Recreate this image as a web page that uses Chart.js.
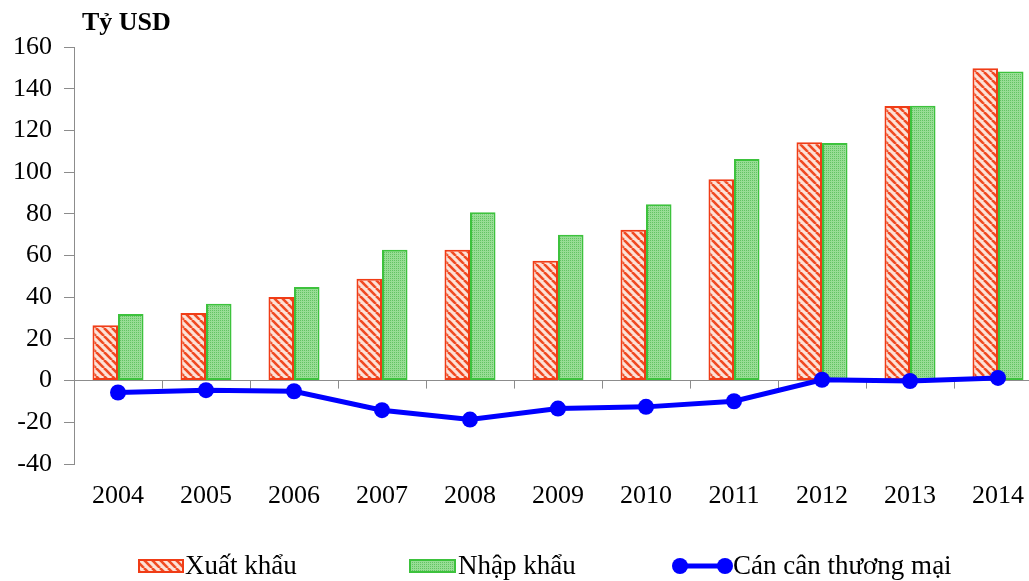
<!DOCTYPE html>
<html>
<head>
<meta charset="utf-8">
<script src="https://cdn.jsdelivr.net/npm/chart.js@4.4.1/dist/chart.umd.min.js"></script>
<style>
  html, body { margin: 0; padding: 0; overflow: hidden; background: #fff; width: 1029px; height: 581px; }
  #wrap { position: absolute; left: 0; top: 0; width: 1060px; height: 581px; }
</style>
</head>
<body>
<div id="wrap"><canvas id="c" width="1060" height="581"></canvas></div>
<script>
// Vietnam trade, billion USD
const years = ['2004', '2005', '2006', '2007', '2008', '2009', '2010', '2011', '2012', '2013', '2014'];
const exportValues = [26.5, 32.4, 40.1, 48.9, 62.8, 57.5, 72.3, 96.6, 114.3, 131.7, 149.8];
const importValues = [32.0, 36.9, 44.9, 62.8, 80.8, 69.9, 84.6, 106.3, 113.9, 131.8, 148.2];
const balanceValues = [-5.7, -4.6, -5.1, -14.2, -18.7, -13.4, -12.6, -9.9, 0.4, -0.2, 1.3];
const yMin = -40, yMax = 160, yStep = 20;
const seriesNames = ['Xuất khẩu', 'Nhập khẩu', 'Cán cân thương mại'];
const unitTitle = 'Tỷ USD';

const SERIF = '"Liberation Serif", "Times New Roman", serif';
const RED = '#F03C16';
const GREEN = '#3DC23D';
const BLUE = '#0000FF';

// diagonal red hatch on pale pink
function hatchPattern() {
  const p = document.createElement('canvas');
  p.width = 8; p.height = 8;
  const g = p.getContext('2d');
  g.fillStyle = '#FCE2D8';
  g.fillRect(0, 0, 8, 8);
  g.strokeStyle = '#F04A22';
  g.lineWidth = 2.6;
  for (const x0 of [-8, 0, 8]) {
    g.beginPath();
    g.moveTo(x0, 0);
    g.lineTo(x0 + 8, 8);
    g.stroke();
  }
  return g.createPattern(p, 'repeat');
}

// fine dotted light green
function dotPattern() {
  const p = document.createElement('canvas');
  p.width = 4; p.height = 4;
  const g = p.getContext('2d');
  g.fillStyle = '#98DD95';
  g.fillRect(0, 0, 4, 4);
  g.fillStyle = '#62C462';
  g.fillRect(0, 0, 1, 1);
  g.fillRect(2, 2, 1, 1);
  g.fillRect(2, 0, 1, 1);
  g.fillRect(0, 2, 1, 1);
  return g.createPattern(p, 'repeat');
}

const canvas = document.getElementById('c');
const redFill = hatchPattern();
const greenFill = dotPattern();

// tick marks on the zero line at category boundaries, title and legend
const decorPlugin = {
  id: 'decor',
  beforeDatasetsDraw(chart) {
    const { ctx, scales: { x, y } } = chart;
    const y0 = y.getPixelForValue(0);
    ctx.save();
    ctx.strokeStyle = '#8c8c8c';
    ctx.lineWidth = 1;
    for (let i = 1; i <= years.length; i++) {
      const px = Math.round(x.getPixelForValue(i - 0.5)) + 0.5;
      ctx.beginPath();
      ctx.moveTo(px, y0);
      ctx.lineTo(px, y0 + 8);
      ctx.stroke();
    }
    ctx.restore();
  },
  afterDraw(chart) {
    const ctx = chart.ctx;
    ctx.save();
    ctx.fillStyle = '#000';
    ctx.font = 'bold 26px ' + SERIF;
    ctx.textBaseline = 'alphabetic';
    ctx.textAlign = 'left';
    ctx.fillText(unitTitle, 82, 30);

    // legend
    const ly = 566;
    ctx.font = '27px ' + SERIF;
    // export swatch
    ctx.fillStyle = redFill;
    ctx.fillRect(139, ly - 6, 44, 12);
    ctx.strokeStyle = RED; ctx.lineWidth = 2;
    ctx.strokeRect(139, ly - 6, 44, 12);
    ctx.fillStyle = '#000';
    ctx.fillText(seriesNames[0], 185, 574);
    // import swatch
    ctx.fillStyle = greenFill;
    ctx.fillRect(410, ly - 6, 45, 12);
    ctx.strokeStyle = GREEN; ctx.lineWidth = 2;
    ctx.strokeRect(410, ly - 6, 45, 12);
    ctx.fillStyle = '#000';
    ctx.fillText(seriesNames[1], 458, 574);
    // balance line
    ctx.strokeStyle = BLUE; ctx.lineWidth = 5;
    ctx.beginPath(); ctx.moveTo(680, ly); ctx.lineTo(725, ly); ctx.stroke();
    ctx.fillStyle = BLUE;
    for (const cx of [680, 725]) {
      ctx.beginPath(); ctx.arc(cx, ly, 8, 0, Math.PI * 2); ctx.fill();
    }
    ctx.fillStyle = '#000';
    ctx.fillText(seriesNames[2], 733, 574);
    ctx.restore();
  }
};

new Chart(canvas, {
  data: {
    labels: years,
    datasets: [
      {
        type: 'line',
        label: seriesNames[2],
        data: balanceValues,
        borderColor: BLUE,
        backgroundColor: BLUE,
        borderWidth: 5,
        pointRadius: 8,
        pointHoverRadius: 8,
        pointBackgroundColor: BLUE,
        pointBorderWidth: 0,
        tension: 0,
        order: 0
      },
      {
        type: 'bar',
        label: seriesNames[0],
        data: exportValues,
        backgroundColor: redFill,
        borderColor: RED,
        borderWidth: 2,
        borderSkipped: false,
        categoryPercentage: 0.58,
        barPercentage: 1.0,
        order: 1
      },
      {
        type: 'bar',
        label: seriesNames[1],
        data: importValues,
        backgroundColor: greenFill,
        borderColor: GREEN,
        borderWidth: 2,
        borderSkipped: false,
        categoryPercentage: 0.58,
        barPercentage: 1.0,
        order: 1
      }
    ]
  },
  options: {
    responsive: false,
    animation: false,
    devicePixelRatio: 1,
    layout: { padding: { left: 0, top: 47, right: 18, bottom: 57 } },
    plugins: {
      legend: { display: false },
      tooltip: { enabled: false },
      title: { display: false }
    },
    scales: {
      x: {
        type: 'category',
        grid: { display: false },
        border: { display: false },
        ticks: {
          color: '#000',
          font: { family: SERIF, size: 26 },
          padding: 9,
          maxRotation: 0
        },
        afterFit(s) { s.height = 60; }
      },
      y: {
        min: yMin,
        max: yMax,
        ticks: {
          stepSize: yStep,
          color: '#000',
          font: { family: SERIF, size: 26 },
          padding: 12
        },
        grid: {
          drawOnChartArea: true,
          drawTicks: true,
          tickLength: 10,
          tickColor: '#8c8c8c',
          color: (c) => (c.tick && c.tick.value === 0 ? '#8c8c8c' : 'rgba(0,0,0,0)'),
          lineWidth: 1
        },
        border: { display: true, color: '#8c8c8c', width: 1 },
        afterFit(s) { s.width = 74; }
      }
    }
  },
  plugins: [decorPlugin]
});
</script>
</body>
</html>
